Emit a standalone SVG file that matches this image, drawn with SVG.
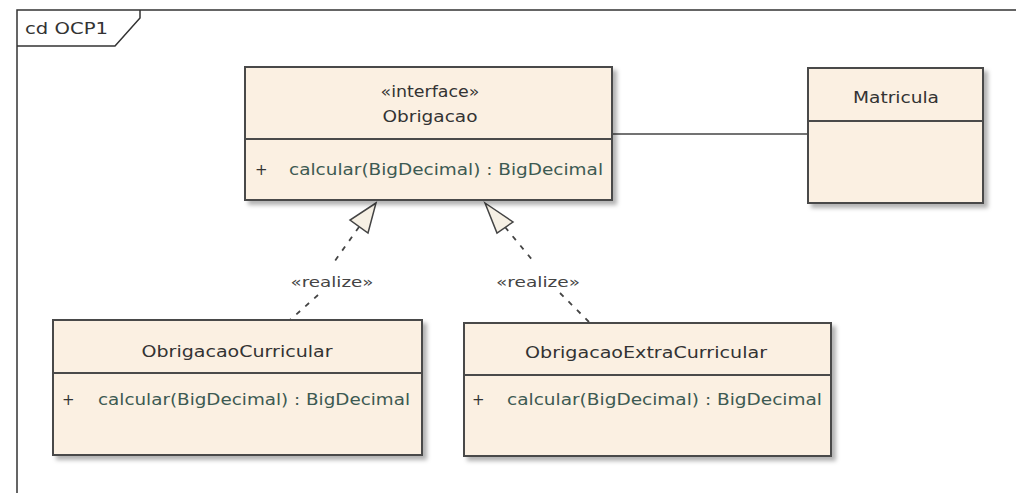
<svg xmlns="http://www.w3.org/2000/svg" width="1016" height="493" viewBox="0 0 1016 493">
  <style>
    .box { fill: #fbf0e2; stroke: #4a4a4a; stroke-width: 2; }
    .sep { stroke: #4a4a4a; stroke-width: 2; }
    .name { font-family: "DejaVu Sans", sans-serif; font-size: 15px; fill: #333333; text-anchor: middle; }
    .op { font-family: "DejaVu Sans", sans-serif; font-size: 15px; fill: #3d5a52; }
    .vis { font-family: "DejaVu Sans", sans-serif; font-size: 15px; fill: #333333; }
    .lbl { font-family: "DejaVu Sans", sans-serif; font-size: 14px; fill: #444444; text-anchor: middle; }
    .frame { fill: none; stroke: #333333; stroke-width: 1.5; }
    .assoc { stroke: #444444; stroke-width: 1.5; fill: none; }
    .real { stroke: #444444; stroke-width: 1.8; fill: none; stroke-dasharray: 5 7; }
    .head { fill: #f6f0e4; stroke: #444444; stroke-width: 1.5; stroke-linejoin: miter; }
  </style>
  <defs>
    <filter id="shadow" x="-10%" y="-10%" width="125%" height="130%">
      <feDropShadow dx="4" dy="4" stdDeviation="2" flood-color="#000000" flood-opacity="0.3"/>
    </filter>
  </defs>

  <rect x="0" y="0" width="1016" height="493" fill="#ffffff"/>

  <!-- diagram frame with name tab -->
  <g id="frame">
    <path class="frame" d="M17,493 L17,10 L1016,10"/>
    <path class="frame" d="M17,46 L115,46 L140,18 L140,10"/>
    <text x="25" y="34" font-family="DejaVu Sans, sans-serif" font-size="15" fill="#333333" textLength="83" lengthAdjust="spacingAndGlyphs">cd OCP1</text>
  </g>

  <!-- connectors: association and two realizations (line broken around the stereotype) -->
  <g id="connectors">
    <line class="assoc" x1="612" y1="134" x2="808" y2="134"/>
    <line class="real" x1="359" y1="227" x2="332" y2="265"/>
    <line class="real" x1="318" y1="295" x2="290" y2="320"/>
    <polygon class="head" points="376,203 350,220 368,233"/>
    <text class="lbl" x="332" y="287" textLength="83" lengthAdjust="spacingAndGlyphs">«realize»</text>
    <line class="real" x1="505" y1="227" x2="534" y2="262"/>
    <line class="real" x1="560" y1="293" x2="589" y2="322"/>
    <polygon class="head" points="485,203 513,222 497,233"/>
    <text class="lbl" x="538" y="287" textLength="84" lengthAdjust="spacingAndGlyphs">«realize»</text>
  </g>

  <g id="Obrigacao">
    <rect class="box" x="245" y="67" width="367" height="133" filter="url(#shadow)"/>
    <line class="sep" x1="245" y1="139" x2="612" y2="139"/>
    <text class="name" x="430" y="97" textLength="99" lengthAdjust="spacingAndGlyphs">«interface»</text>
    <text class="name" x="430" y="122" textLength="95" lengthAdjust="spacingAndGlyphs">Obrigacao</text>
    <text class="vis" x="255" y="175">+</text>
    <text class="op" x="289" y="175" textLength="314" lengthAdjust="spacingAndGlyphs">calcular(BigDecimal) : BigDecimal</text>
  </g>

  <g id="Matricula">
    <rect class="box" x="808" y="68" width="175" height="135" filter="url(#shadow)"/>
    <line class="sep" x1="808" y1="121" x2="983" y2="121"/>
    <text class="name" x="896" y="103" textLength="86" lengthAdjust="spacingAndGlyphs">Matricula</text>
  </g>

  <g id="ObrigacaoCurricular">
    <rect class="box" x="53" y="320" width="369" height="135" filter="url(#shadow)"/>
    <line class="sep" x1="53" y1="373" x2="422" y2="373"/>
    <text class="name" x="237" y="357" textLength="191" lengthAdjust="spacingAndGlyphs">ObrigacaoCurricular</text>
    <text class="vis" x="62" y="405">+</text>
    <text class="op" x="98" y="405" textLength="312" lengthAdjust="spacingAndGlyphs">calcular(BigDecimal) : BigDecimal</text>
  </g>

  <g id="ObrigacaoExtraCurricular">
    <rect class="box" x="464" y="323" width="367" height="133" filter="url(#shadow)"/>
    <line class="sep" x1="464" y1="375" x2="831" y2="375"/>
    <text class="name" x="646" y="358" textLength="242" lengthAdjust="spacingAndGlyphs">ObrigacaoExtraCurricular</text>
    <text class="vis" x="472" y="405">+</text>
    <text class="op" x="507" y="405" textLength="315" lengthAdjust="spacingAndGlyphs">calcular(BigDecimal) : BigDecimal</text>
  </g>
</svg>
